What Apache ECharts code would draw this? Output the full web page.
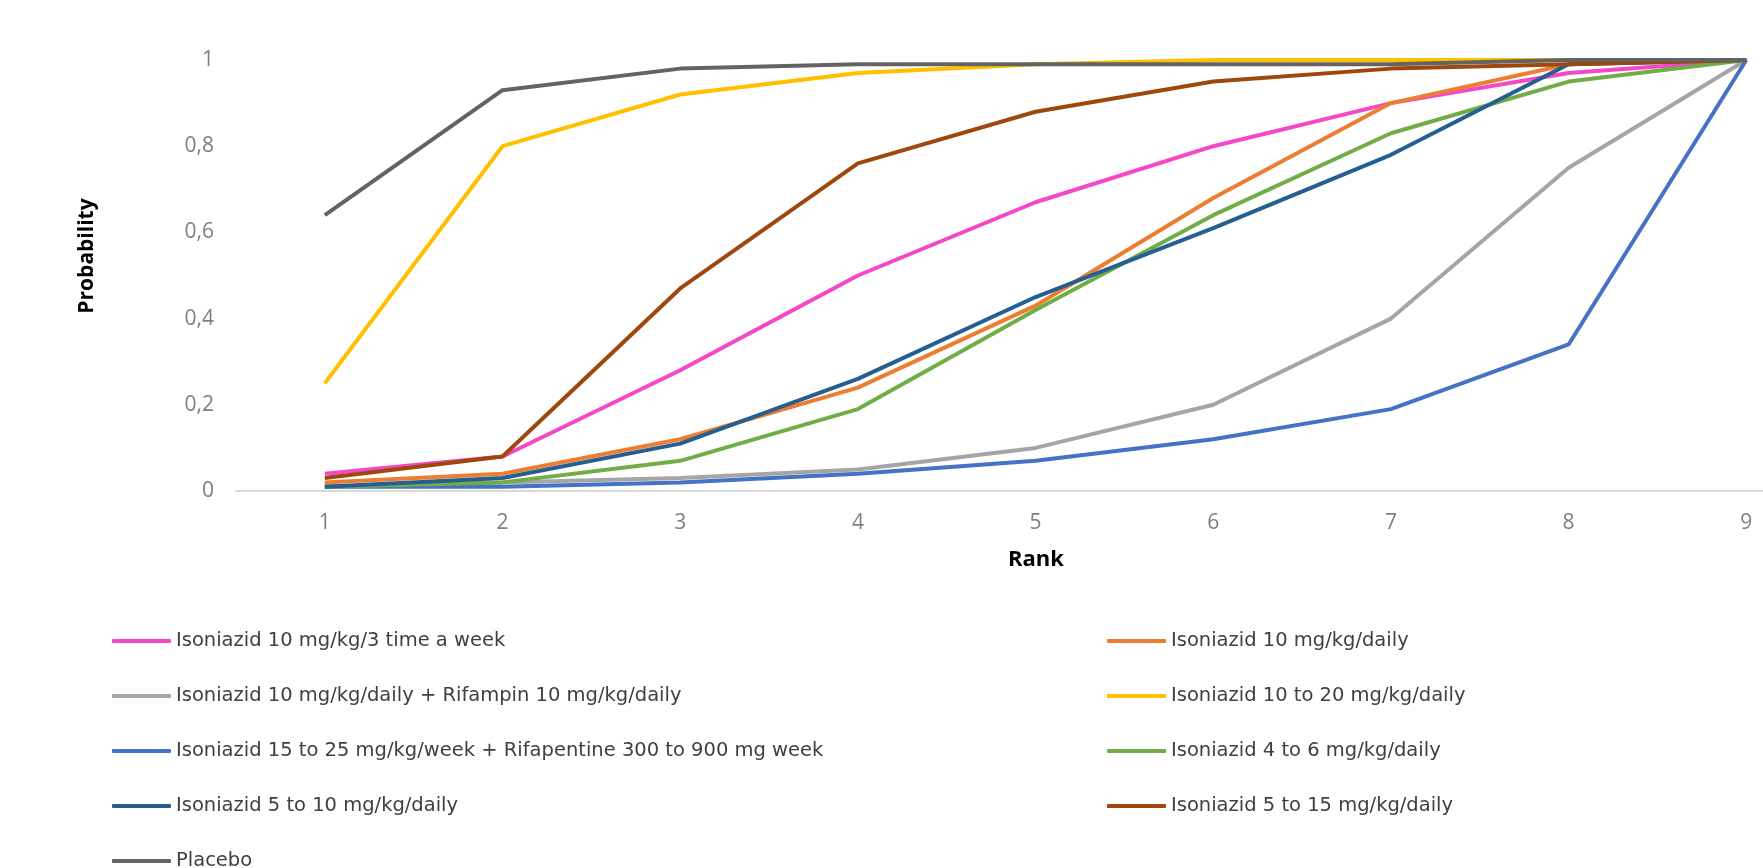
<!DOCTYPE html>
<html>
<head>
<meta charset="utf-8">
<script src="https://cdn.jsdelivr.net/npm/echarts@6/dist/echarts.min.js"></script>
<style>
html,body{margin:0;padding:0;background:#fff;}
#chart{width:1763px;height:868px;}
</style>
</head>
<body>
<div id="chart"></div>
<script>
const ranks = [1, 2, 3, 4, 5, 6, 7, 8, 9];
const yTicks = { min: 0, max: 1, interval: 0.2 };

const seriesNames = [
  'Isoniazid 10 mg/kg/3 time a week',
  'Isoniazid 10 mg/kg/daily',
  'Isoniazid 10 mg/kg/daily + Rifampin 10 mg/kg/daily',
  'Isoniazid 10 to 20 mg/kg/daily',
  'Isoniazid 15 to 25 mg/kg/week + Rifapentine 300 to 900 mg week',
  'Isoniazid 4 to 6 mg/kg/daily',
  'Isoniazid 5 to 10 mg/kg/daily',
  'Isoniazid 5 to 15 mg/kg/daily',
  'Placebo'
];

const inh10_3week   = [0.04, 0.08, 0.28, 0.50, 0.67, 0.80, 0.90, 0.97, 1.00];
const inh10_daily   = [0.02, 0.04, 0.12, 0.24, 0.43, 0.68, 0.90, 0.99, 1.00];
const inh10_rif10   = [0.01, 0.02, 0.03, 0.05, 0.10, 0.20, 0.40, 0.75, 1.00];
const inh10_20      = [0.25, 0.80, 0.92, 0.97, 0.99, 1.00, 1.00, 1.00, 1.00];
const inh15_25_rpt  = [0.01, 0.01, 0.02, 0.04, 0.07, 0.12, 0.19, 0.34, 1.00];
const inh4_6        = [0.01, 0.02, 0.07, 0.19, 0.42, 0.64, 0.83, 0.95, 1.00];
const inh5_10       = [0.01, 0.03, 0.11, 0.26, 0.45, 0.61, 0.78, 0.99, 1.00];
const inh5_15       = [0.03, 0.08, 0.47, 0.76, 0.88, 0.95, 0.98, 0.99, 1.00];
const placebo       = [0.64, 0.93, 0.98, 0.99, 0.99, 0.99, 0.99, 1.00, 1.00];

const seriesData = [inh10_3week, inh10_daily, inh10_rif10, inh10_20, inh15_25_rpt, inh4_6, inh5_10, inh5_15, placebo];
const colors = ['#F547C6', '#ED7D31', '#A5A5A5', '#FFC000', '#4472C4', '#70AD47', '#255E91', '#9E480E', '#636363'];

const chart = echarts.init(document.getElementById('chart'), null, { renderer: 'canvas' });

const legendCols = [112, 1107];
const legends = seriesNames.map((name, i) => ({
  orient: 'horizontal',
  left: legendCols[i % 2],
  top: 629 + 55 * Math.floor(i / 2),
  padding: 0,
  icon: 'roundRect',
  itemWidth: 59,
  itemHeight: 4,
  selectedMode: false,
  data: [name],
  textStyle: { fontFamily: 'DejaVu Sans, sans-serif', fontSize: 19.5, color: '#404040', lineHeight: 24 }
}));

const option = {
  backgroundColor: '#ffffff',
  animation: false,
  color: colors,
  grid: { left: 236, right: 0, top: 60, bottom: 377, containLabel: false },
  legend: legends,
  xAxis: {
    type: 'value',
    min: 0.5,
    max: 9.094,
    axisLine: { show: true, onZero: false, lineStyle: { color: '#d9d9d9', width: 2 } },
    axisTick: { show: false },
    axisLabel: {
      customValues: ranks,
      margin: 22,
      fontFamily: 'Open Sans, sans-serif',
      fontSize: 21,
      color: '#7f7f7f'
    },
    splitLine: { show: false }
  },
  yAxis: {
    type: 'value',
    min: yTicks.min,
    max: yTicks.max,
    interval: yTicks.interval,
    axisLine: { show: false },
    axisTick: { show: false },
    splitLine: { show: false },
    axisLabel: {
      margin: 22,
      fontFamily: 'Open Sans, sans-serif',
      fontSize: 21,
      color: '#7f7f7f',
      formatter: v => String(Math.round(v * 10) / 10).replace('.', ',')
    }
  },
  graphic: [{
    type: 'text',
    x: 87,
    y: 256,
    rotation: Math.PI / 2,
    style: {
      text: 'Probability',
      fontFamily: 'Open Sans, sans-serif',
      fontWeight: 'bold',
      fontSize: 21,
      fill: '#000',
      align: 'center',
      verticalAlign: 'middle'
    }
  }, {
    type: 'text',
    x: 1036,
    y: 560,
    style: {
      text: 'Rank',
      fontFamily: 'Open Sans, sans-serif',
      fontWeight: 'bold',
      fontSize: 22,
      fill: '#000',
      align: 'center',
      verticalAlign: 'middle'
    }
  }],
  series: seriesNames.map((name, i) => ({
    name: name,
    type: 'line',
    data: ranks.map((r, j) => [r, seriesData[i][j]]),
    symbol: 'none',
    showSymbol: false,
    smooth: false,
    lineStyle: { width: 4, color: colors[i] },
    itemStyle: { color: colors[i] },
    z: 2 + i
  }))
};

chart.setOption(option);
</script>
</body>
</html>
